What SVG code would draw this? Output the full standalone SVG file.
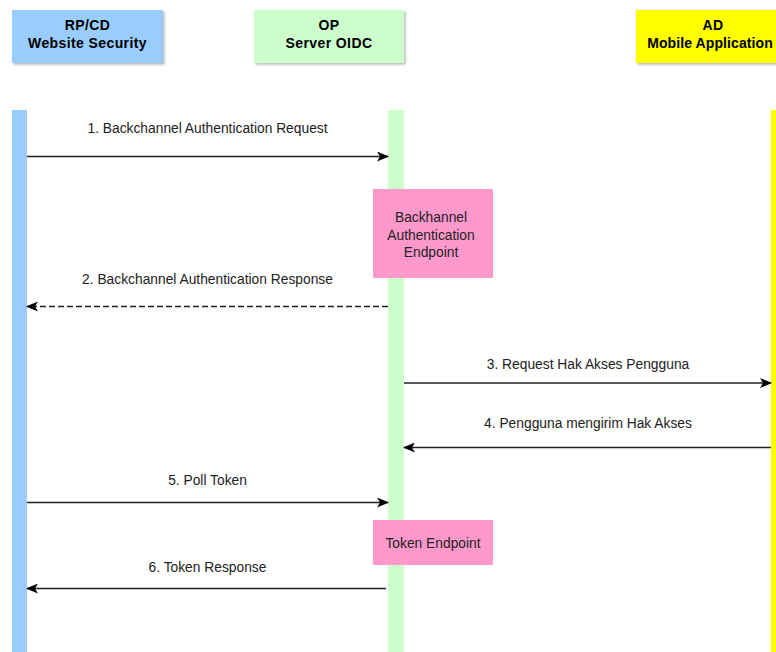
<svg xmlns="http://www.w3.org/2000/svg" width="776" height="652" viewBox="0 0 776 652">
<style>
.hdr{font-family:"Liberation Sans",Arial,sans-serif;font-size:14px;font-weight:bold;fill:#000;text-anchor:middle;letter-spacing:0.4px}
.lbl{font-family:"Liberation Sans",Arial,sans-serif;font-size:13.8px;fill:#222;text-anchor:middle}
.msg{stroke:#222;stroke-width:1.3;fill:none}
.dash{stroke-dasharray:6,3}
</style>
<defs>
<marker id="ah" viewBox="0 0 12 10" refX="11" refY="5" markerWidth="12" markerHeight="10" markerUnits="userSpaceOnUse" orient="auto">
<path d="M0,0 L12,5 L0,10 L3,5 Z" fill="#000"/>
</marker>
<filter id="sh" x="-5%" y="-5%" width="115%" height="120%"><feDropShadow dx="1.5" dy="1.5" stdDeviation="0.8" flood-color="#999" flood-opacity="0.7"/></filter>
</defs>
<rect width="776" height="652" fill="#fff"/>
<g id="rp">
<rect x="12" y="10" width="151" height="53" fill="#99ccff" filter="url(#sh)"/>
<text class="hdr" x="87.5" y="30">RP/CD</text>
<text class="hdr" x="87.5" y="48">Website Security</text>
<rect x="12" y="110" width="15" height="542" fill="#99ccff"/>
</g>
<g id="op">
<rect x="254" y="10" width="150" height="53" fill="#ccffcc" filter="url(#sh)"/>
<text class="hdr" x="329" y="30">OP</text>
<text class="hdr" x="329" y="48">Server OIDC</text>
<rect x="388" y="110" width="16" height="542" fill="#ccffcc"/>
</g>
<g id="ad">
<rect x="636" y="10" width="145" height="53" fill="#ffff00" filter="url(#sh)"/>
<text class="hdr" x="713" y="30">AD</text>
<text class="hdr" x="710" y="48" style="letter-spacing:0.1px">Mobile Application</text>
<rect x="771" y="110" width="5" height="542" fill="#ffff00"/>
</g>
<g id="backchannel-endpoint">
<rect x="373" y="189" width="120" height="89" fill="#ff99cc"/>
<text class="lbl" x="431" y="222">Backhannel</text>
<text class="lbl" x="431" y="240">Authentication</text>
<text class="lbl" x="431" y="257">Endpoint</text>
</g>
<g id="token-endpoint">
<rect x="373" y="520" width="120" height="45" fill="#ff99cc"/>
<text class="lbl" x="433" y="548">Token Endpoint</text>
</g>
<g id="connectors">
<line class="msg" x1="27" y1="156.5" x2="388" y2="156.5" marker-end="url(#ah)"/>
<text class="lbl" x="207.5" y="133">1. Backchannel Authentication Request</text>
<line class="msg dash" x1="388" y1="306.5" x2="27" y2="306.5" marker-end="url(#ah)"/>
<text class="lbl" x="207.5" y="284">2. Backchannel Authentication Response</text>
<line class="msg" x1="404" y1="383" x2="771" y2="383" marker-end="url(#ah)"/>
<text class="lbl" x="588" y="369">3. Request Hak Akses Pengguna</text>
<line class="msg" x1="771" y1="447.5" x2="404" y2="447.5" marker-end="url(#ah)"/>
<text class="lbl" x="588" y="428">4. Pengguna mengirim Hak Akses</text>
<line class="msg" x1="27" y1="502.5" x2="388" y2="502.5" marker-end="url(#ah)"/>
<text class="lbl" x="207.5" y="485">5. Poll Token</text>
<line class="msg" x1="386" y1="588.5" x2="27" y2="588.5" marker-end="url(#ah)"/>
<text class="lbl" x="207.5" y="572">6. Token Response</text>
</g>
</svg>
